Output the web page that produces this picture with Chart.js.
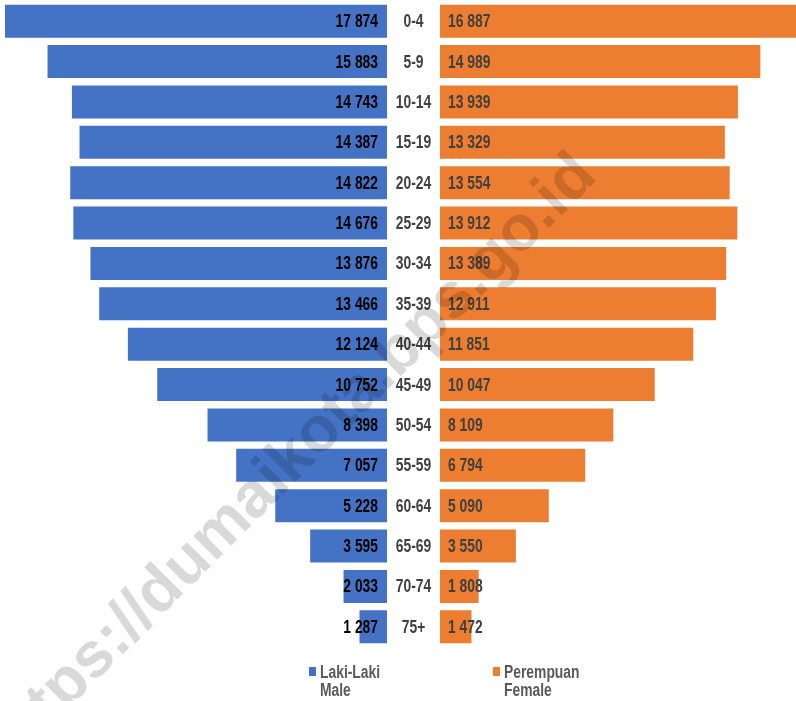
<!DOCTYPE html>
<html>
<head>
<meta charset="utf-8">
<script src="https://cdn.jsdelivr.net/npm/chart.js@4"></script>
<style>
  html, body { margin: 0; padding: 0; background: #ffffff; }
  #wrap { width: 796px; height: 701px; position: relative; }
</style>
</head>
<body>
<div id="wrap"><canvas id="pyramid" width="796" height="701"></canvas></div>
<script>
const ageGroups = ['0-4', '5-9', '10-14', '15-19', '20-24', '25-29', '30-34', '35-39',
                   '40-44', '45-49', '50-54', '55-59', '60-64', '65-69', '70-74', '75+'];
const male = [17874, 15883, 14743, 14387, 14822, 14676, 13876, 13466,
              12124, 10752, 8398, 7057, 5228, 3595, 2033, 1287];
const female = [16887, 14989, 13939, 13329, 13554, 13912, 13389, 12911,
                11851, 10047, 8109, 6794, 5090, 3550, 1808, 1472];
const legendLines = [['Laki-Laki', 'Male'], ['Perempuan', 'Female']];

const BLUE = '#4472C4'
const ORANGE = '#ED7D31'
const GAP = 1240   // half of the blank middle column, in data units
const FONT = "bold 18px 'Liberation Sans', Arial, sans-serif"
const NARROW = 0.77  // squeeze to look like Arial Narrow

function fmt(n){
    return String(n).replace(/\B(?=(\d{3})+(?!\d))/g, ' ')
}

// draw condensed text
function narrowText(ctx, text, x, y, align){
    ctx.save()
    ctx.translate(x, y)
    ctx.scale(NARROW, 1)
    ctx.textAlign = align
    ctx.fillText(text, 0, 0)
    ctx.restore()
}

const labelsPlugin = {
    id: 'pyramidLabels',
    afterDatasetsDraw(chart){
        const ctx = chart.ctx
        const mMeta = chart.getDatasetMeta(1)
        const fMeta = chart.getDatasetMeta(3)
        const cx = chart.scales.x.getPixelForValue(0)
        ctx.save()
        ctx.font = FONT
        ctx.textBaseline = 'middle'
        for(let i = 0; i < ageGroups.length; i++){
            const mb = mMeta.data[i]
            const fb = fMeta.data[i]
            ctx.fillStyle = '#000000'
            narrowText(ctx, fmt(male[i]), mb.base - 9, mb.y + 1, 'right')
            ctx.fillStyle = '#404040'
            narrowText(ctx, ageGroups[i], cx, mb.y + 1, 'center')
            narrowText(ctx, fmt(female[i]), fb.base + 8, fb.y + 1, 'left')
        }
        ctx.restore()
    },
    afterDraw(chart){
        const ctx = chart.ctx
        ctx.save()
        // legend
        ctx.font = FONT
        ctx.textBaseline = 'middle'
        const items = [{x: 309, color: BLUE}, {x: 493, color: ORANGE}]
        items.forEach((it, k) => {
            ctx.fillStyle = it.color
            ctx.fillRect(it.x, 667, 7, 9)
            ctx.fillStyle = '#595959'
            narrowText(ctx, legendLines[k][0], it.x + 11, 673, 'left')
            narrowText(ctx, legendLines[k][1], it.x + 11, 691, 'left')
        })
        // watermark
        ctx.translate(8, 769)
        ctx.rotate(-Math.PI / 4)
        ctx.font = "bold 64px 'Liberation Sans', Arial, sans-serif"
        ctx.fillStyle = 'rgba(0,0,0,0.15)'
        ctx.textBaseline = 'alphabetic'
        ctx.textAlign = 'left'
        ctx.fillText('https://dumaikota.bps.go.id', 0, 0)
        ctx.restore()
    }
}

const ctx = document.getElementById('pyramid').getContext('2d')
new Chart(ctx, {
    type: 'bar',
    data: {
        labels: ageGroups,
        datasets: [
            {label: 'gapL', data: ageGroups.map(() => -GAP), backgroundColor: 'rgba(0,0,0,0)'},
            {label: 'Laki-Laki', data: male.map(v => -v), backgroundColor: BLUE},
            {label: 'gapR', data: ageGroups.map(() => GAP), backgroundColor: 'rgba(0,0,0,0)'},
            {label: 'Perempuan', data: female, backgroundColor: ORANGE},
        ]
    },
    options: {
        indexAxis: 'y',
        responsive: false,
        animation: false,
        barPercentage: 0.82,
        categoryPercentage: 1.0,
        layout: {padding: {left: 5, right: 0, top: 1, bottom: 54}},
        plugins: {
            legend: {display: false},
            tooltip: {enabled: false}
        },
        scales: {
            x: {
                stacked: true,
                min: -(17874 + GAP),
                max: 17897,
                display: false,
                grid: {display: false}
            },
            y: {
                stacked: true,
                display: false,
                grid: {display: false}
            }
        }
    },
    plugins: [labelsPlugin]
});
</script>
</body>
</html>
